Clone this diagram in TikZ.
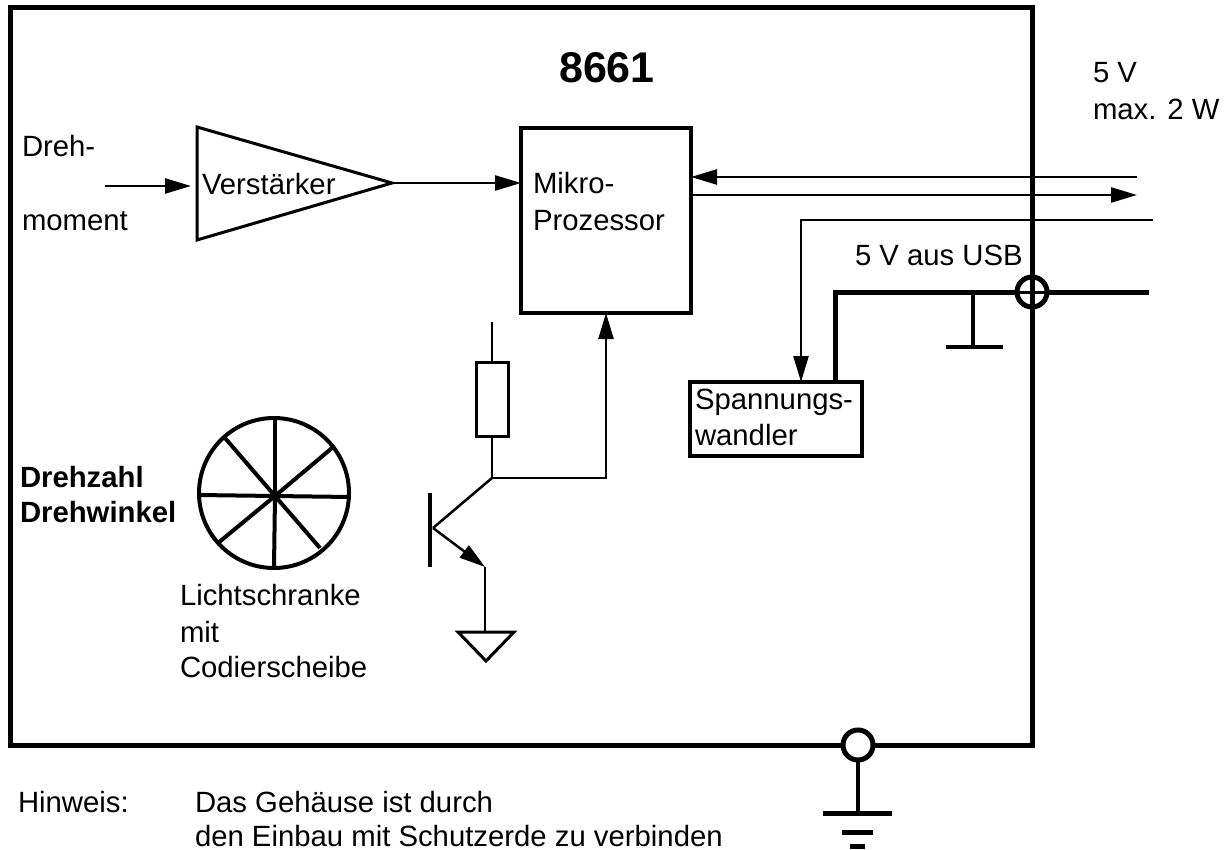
\documentclass[tikz,border=0pt]{standalone}
\usepackage{fontspec}
\setmainfont{Liberation Sans}
\usetikzlibrary{arrows.meta}
\tikzset{
  frame/.style={draw=black,line width=5pt,fill=none,minimum width=0pt},
  box/.style={draw=black,line width=4pt,inner sep=0pt,outer sep=0pt},
  thinbox/.style={draw=black,line width=3pt,inner sep=0pt,outer sep=0pt},
  wire/.style={draw=black,line width=2.5pt},
  sig/.style={wire,-{Triangle[length=26pt,width=15pt]}},
  thick wire/.style={draw=black,line width=5pt},
  txt/.style={inner sep=0pt,outer sep=0pt,anchor=base west,font=\fontsize{29.3}{29.3}\selectfont},
  ring/.style={circle,draw=black,line width=5pt,minimum size=30pt,inner sep=0pt,outer sep=0pt},
}
\begin{document}
\begin{tikzpicture}[x=1pt,y=-1pt]
\useasboundingbox (0,0) rectangle (1230,850);
% housing
\node[frame,minimum width=1022pt,minimum height=737pt,inner sep=0pt,outer sep=0pt] (case) at (521,376.5) {};
\node[inner sep=0pt,font=\fontsize{43}{43}\selectfont\bfseries] (title) at (607,68) {8661};
% amplifier
\coordinate (ampA) at (197,127);
\coordinate (ampB) at (197,240);
\coordinate (ampC) at (392,183);
\draw[line width=3pt,line join=miter] (ampA) -- (ampB) -- (ampC) -- cycle;
\coordinate (inS) at (105,186);
\coordinate (inE) at (191,186);
\draw[sig] (inS) -- (inE);
\node[txt] (verst) at (202,195) {Verstärker};
\node[txt] (dreh) at (22,157) {Dreh-};
\node[txt] (mom) at (22,231) {moment};
% micro
\node[box,minimum width=170pt,minimum height=185pt] (mc) at (606,220.5) {};
\node[txt] (mik1) at (533,194) {Mikro-};
\node[txt] (mik2) at (533,231) {Prozessor};
\draw[sig] (ampC) -- (mc.west |- ampC);
% bus
\coordinate (busA) at (1137,177);
\coordinate (busB) at (1137,195);
\coordinate (busC) at (1153,220);
\draw[sig] (busA) -- (mc.east |- busA);
\draw[sig] (mc.east |- busB) -- (busB);
% converter
\node[thinbox,line width=4pt,minimum width=172pt,minimum height=74pt] (conv) at (776,419) {};
\node[txt] (sp1) at (695,409) {Spannungs-};
\node[txt] (sp2) at (695,445) {wandler};
\coordinate (busD) at (801,220);
\draw[sig] (busC) -- (busD) -- (busD |- conv.north);
% usb
\node[ring] (usb) at (1032,292) {};
\coordinate (usbR) at (1149,292);
\coordinate (usbL) at (835,292);
\coordinate (usbG) at (973,292);
\coordinate (usbGb) at (973,347);
\draw[thick wire,line join=miter] (conv.north -| usbL) -- (usbL) -- (usb.west);
\draw[thick wire] (usb.east) -- (usbR);
\draw[line width=3pt] (usb.west) -- (usb.east);
\draw[line width=4pt] (usbG) -- (usbGb);
\draw[line width=4pt] (946,347) -- (1003,347);
\node[txt] (usbT) at (855,265) {5 V aus USB};
\node[txt] (v5) at (1093,83) {5 V};
\node[txt] (w2) at (1093,120) {max. 2 W};
% transistor stage
\coordinate (rTop) at (492,322);
\node[thinbox,minimum width=32pt,minimum height=74pt] (res) at (492,399) {};
\coordinate (col) at (492,478);
\coordinate (bas) at (433,528);
\coordinate (emi) at (485,567);
\coordinate (gndT) at (485,632);
\coordinate (colUp) at (606,478);
\draw[wire] (rTop) -- (res.north);
\draw[wire] (res.south) -- (col);
\draw[sig] (col) -- (colUp) -- (mc.south -| colUp);
\draw[wire] (col) -- (bas);
\draw[sig] (bas) -- (emi);
\draw[wire] (emi) -- (gndT);
\draw[line width=3.5pt] (430,493) -- (430,567);
\draw[line width=3pt] (458,632) -- (514,632) -- (486,661) -- cycle;
% wheel
\node[circle,draw=black,line width=4pt,minimum size=150pt,inner sep=0pt,outer sep=0pt] (wheel) at (274,493) {};
\coordinate (hub) at (275,496);
\foreach \x/\y in {198/495,350/497,275/418,274/567,332/448,218/543,225/438,320/548}
  \draw[line width=4pt] (hub) -- (\x,\y);
\node[txt,font=\fontsize{29.3}{29.3}\selectfont\bfseries] (dz) at (20,487) {Drehzahl};
\node[txt,font=\fontsize{29.3}{29.3}\selectfont\bfseries] (dw) at (20,522) {Drehwinkel};
\node[txt] (l1) at (180,605) {Lichtschranke};
\node[txt] (l2) at (180,642) {mit};
\node[txt] (l3) at (180,677) {Codierscheibe};
% earth
\node[ring,fill=white] (pe) at (858,745) {};
\coordinate (peB) at (858,813);
\draw[line width=4pt] (pe.south) -- (peB);
\draw[line width=5pt] (823,813) -- (892,813);
\draw[line width=5pt] (842,832) -- (873,832);
\draw[line width=5pt] (850,846) -- (865,846);
% note
\node[txt] (hw) at (18,812) {Hinweis:};
\node[txt] (n1) at (195,812) {Das Gehäuse ist durch};
\node[txt] (n2) at (195,846) {den Einbau mit Schutzerde zu verbinden};
\end{tikzpicture}
\end{document}
